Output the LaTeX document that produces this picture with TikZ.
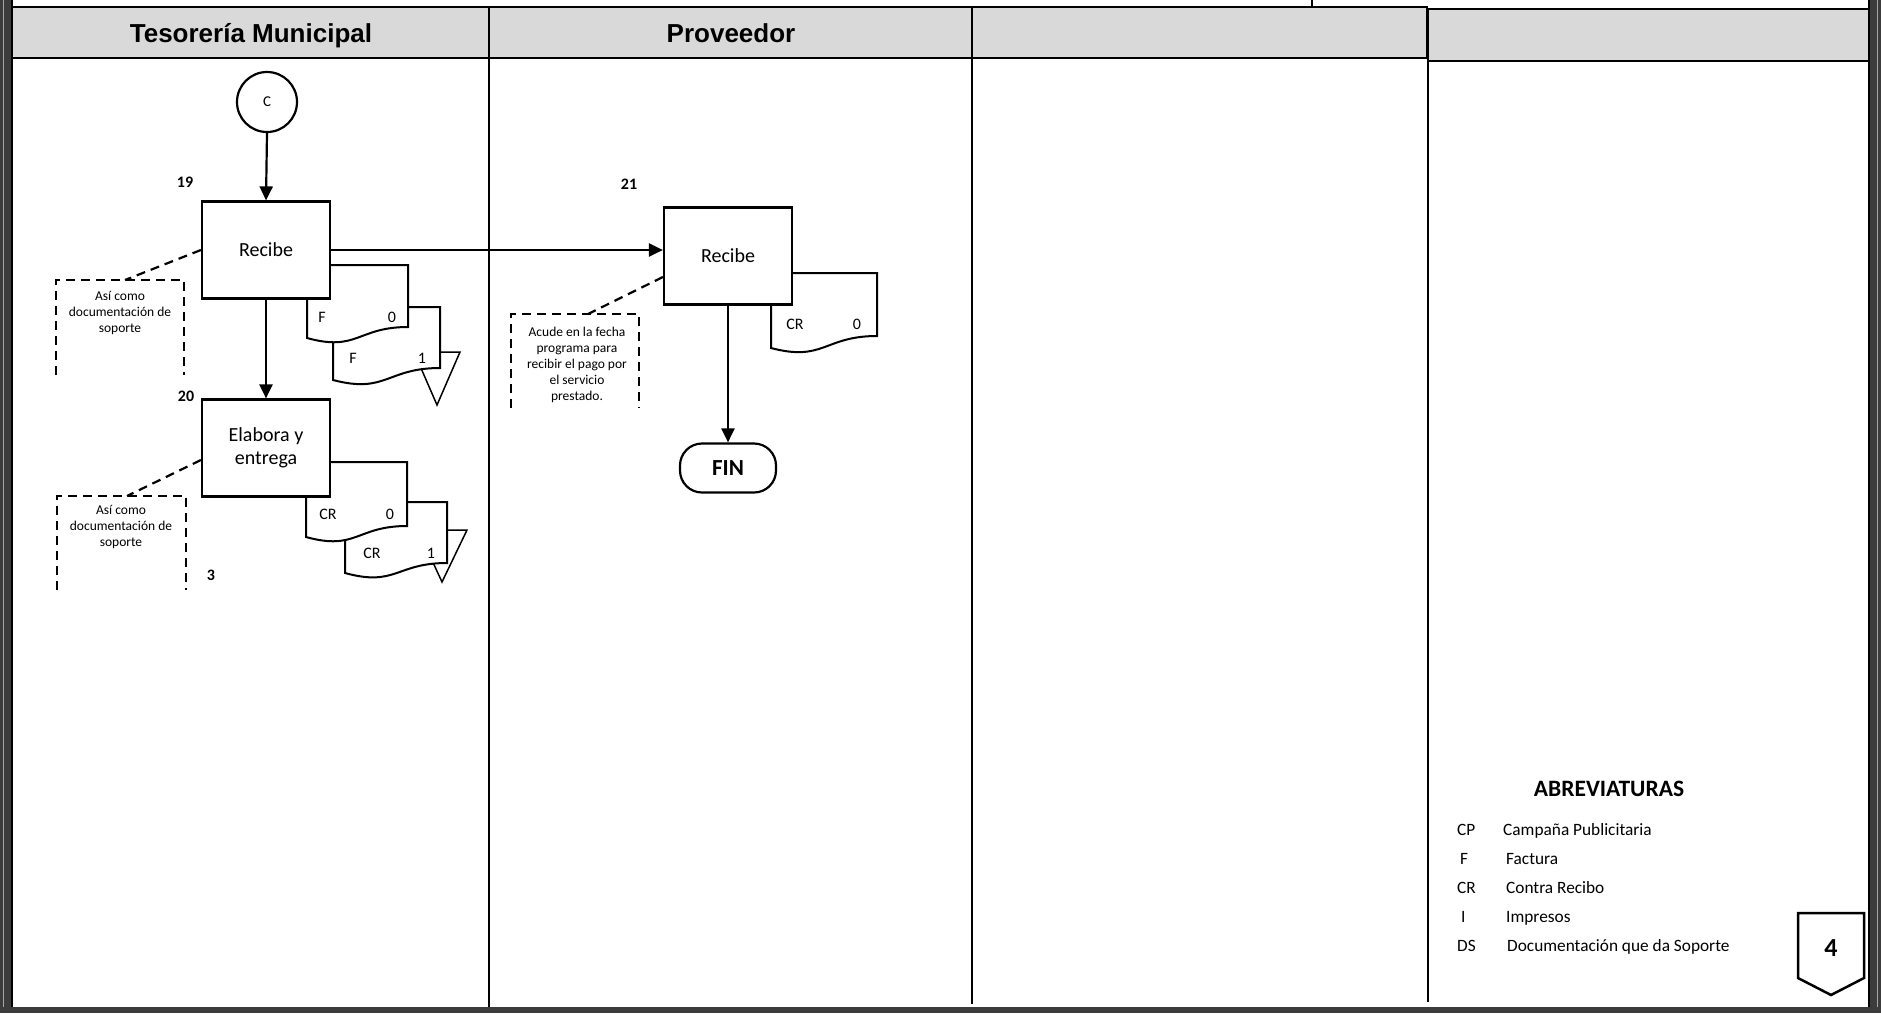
\documentclass[tikz,border=0pt]{standalone}
\usepackage{fontspec}
\setmainfont{Carlito}
\newfontfamily\hdrfont{Liberation Sans}
\usetikzlibrary{arrows.meta,calc}
\definecolor{hdrgray}{HTML}{D9D9D9}
\definecolor{bandgray}{HTML}{3C3C3C}
% document shape: x1, top, x2, right-bottom y, left-bottom y
\newcommand{\docshape}[5]{%
  \filldraw[docline] (#1,#5) -- (#1,#2) -- (#3,#2) -- (#3,#4)
    .. controls ({#1+0.5*(#3-#1)},#4) and ({#1+0.5*(#3-#1)},{#5+14}) .. (#1,#5) -- cycle;}
\tikzset{
  box/.style={draw, line width=2.2pt, fill=white, minimum width=128pt, minimum height=97pt,
    inner sep=0pt, font=\fontsize{20}{23}\selectfont, align=center},
  docline/.style={draw, line width=2pt, fill=white},
  arrow/.style={line width=2.2pt, -{Triangle[length=14pt,width=13pt]}},
  note/.style={line width=2.2pt, dash pattern=on 9pt off 6pt},
  notetext/.style={font=\fontsize{13.5}{16}\selectfont, align=center, inner sep=0pt},
  num/.style={font=\bfseries\fontsize{16}{16}\selectfont, inner sep=0pt},
  doclabel/.style={font=\fontsize{16}{16}\selectfont, inner sep=0pt},
  lane/.style={line width=1.6pt},
  header/.style={draw, line width=2.5pt, fill=hdrgray},
  hdrtext/.style={font=\hdrfont\bfseries\fontsize{26}{26}\selectfont, inner sep=0pt, anchor=base},
  abbr/.style={font=\fontsize{17.3}{17.3}\selectfont, inner sep=0pt, anchor=base west},
}
\begin{document}
\begin{tikzpicture}[x=1pt,y=-1pt]
\useasboundingbox (0,0) rectangle (1881,1013);
\fill[white] (0,0) rectangle (1881,1013);
% header
\draw[header] (12,7) rectangle (489,58);
\draw[header] (489,7) rectangle (972,58);
\draw[header] (972,7) rectangle (1427,58);
\draw[header] (1428,9) rectangle (1873,61);
\node[hdrtext] (h1) at (251,42) {Tesorería Municipal};
\node[hdrtext] (h2) at (731,42) {Proveedor};
\draw[line width=1.5pt] (1312,0) -- (1312,7);
% lanes
\draw[lane] (489,58) -- (489,1007);
\draw[lane] (972,58) -- (972,1004);
\draw[lane] (1428,61) -- (1428,1002);

% ---- Tesoreria: step 19
\node[circle, draw, line width=2.2pt, minimum size=60pt, inner sep=0pt,
  font=\fontsize{15}{15}\selectfont] (c) at (267,102) {C};
\fill[white] (414,352) -- (460,352) -- (437,405) -- cycle;
\draw[line width=1.5pt] (414,352) -- (460,352) -- (437,405) -- cycle;
\docshape{333}{307}{440}{368}{380}
\node[doclabel] (f1a) at (353,358) {F};
\node[doclabel] (f1b) at (422,358) {1};
\docshape{307}{265}{408}{327}{338}
\node[doclabel] (f0a) at (322,317) {F};
\node[doclabel] (f0b) at (392,317) {0};
\node[box] (box1) at (266,250) {Recibe};
\node[num] (n19) at (185,182) {19};
\draw[arrow] (c.south) -- (box1.north);
\coordinate (n1top) at (125,280);
\draw[note] (box1.west) -- (n1top);
\draw[note] (56,375) -- (56,280) -- (184,280) -- (184,375);
\node[notetext] (t1) at (120,313) {Así como\\documentación  de\\soporte};

% ---- step 20
\fill[white] (418,530) -- (467,530) -- (442,582) -- cycle;
\draw[line width=1.5pt] (418,530) -- (467,530) -- (442,582) -- cycle;
\docshape{345}{502}{447}{563}{573}
\node[doclabel] (cr1a) at (372,553) {CR};
\node[doclabel] (cr1b) at (431,553) {1};
\docshape{306}{462}{407}{526}{537}
\node[doclabel] (cr0a) at (328,514) {CR};
\node[doclabel] (cr0b) at (390,514) {0};
\node[box] (box2) at (266,448) {Elabora y\\entrega};
\node[num] (n20) at (186,396) {20};
\node[num] (n3) at (211,575) {3};
\draw[arrow] (box1.south) -- (box2.north);
\coordinate (n2top) at (127,496);
\draw[note] ($(box2.west)+(0,12)$) -- (n2top);
\draw[note] (57,590) -- (57,496) -- (186,496) -- (186,590);
\node[notetext] (t2) at (121,527) {Así como\\documentación  de\\soporte};

% ---- Proveedor: step 21
\docshape{771}{273}{877}{336}{348}
\node[doclabel] (cr3a) at (795,324) {CR};
\node[doclabel] (cr3b) at (857,324) {0};
\node[box] (box3) at (728,256) {Recibe};
\node[num] (n21) at (629,184) {21};
\draw[arrow] (box1.east) -- (box1.east -| box3.west);
\coordinate (n3top) at (588,314);
\draw[note] ($(box3.west)+(0,21)$) -- (n3top);
\draw[note] (511,408) -- (511,314) -- (639,314) -- (639,408);
\node[notetext] (t3) at (577,365) {Acude  en la fecha\\programa para\\recibir el pago por\\el servicio\\prestado.};
\node[draw, line width=2.2pt, fill=white, minimum width=96pt, minimum height=49pt,
  rounded corners=22pt, inner sep=0pt, font=\bfseries\fontsize{23}{23}\selectfont] (fin) at (728,468) {FIN};
\draw[arrow] (box3.south) -- (fin.north);

% ---- abbreviations
\node[font=\bfseries\fontsize{23.5}{23.5}\selectfont, inner sep=0pt] (abt) at (1609,789) {ABREVIATURAS};
\node[abbr] (aCP) at (1457,835) {CP};
\node[abbr] (dCP) at (1503,835) {Campaña Publicitaria};
\node[abbr] (aF) at (1460,864) {F};
\node[abbr] (dF) at (1506,864) {Factura};
\node[abbr] (aCR) at (1457,893) {CR};
\node[abbr] (dCR) at (1506,893) {Contra Recibo};
\node[abbr] (aI) at (1461,922) {I};
\node[abbr] (dI) at (1506,922) {Impresos};
\node[abbr] (aDS) at (1457,951) {DS};
\node[abbr] (dDS) at (1507,951) {Documentación que da Soporte};
% off-page connector
\draw[line width=2.5pt, fill=white] (1798,913) -- (1864,913) -- (1864,978) -- (1831,995) -- (1798,978) -- cycle;
\node[font=\bfseries\fontsize{26}{26}\selectfont, inner sep=0pt] (pg) at (1831,948) {4};

% outer frame bands
\fill[bandgray] (0,0) rectangle (11,1013);
\draw[gray!70, line width=1pt] (3.5,0) -- (3.5,1013);
\draw[line width=1.6pt] (12,0) -- (12,1007);
\fill[bandgray] (1870,0) rectangle (1881,1013);
\draw[gray!70, line width=1pt] (1877.5,0) -- (1877.5,1013);
\draw[line width=1.6pt] (1869,0) -- (1869,1007);
\fill[bandgray] (0,1007) rectangle (1881,1013);
\end{tikzpicture}
\end{document}
